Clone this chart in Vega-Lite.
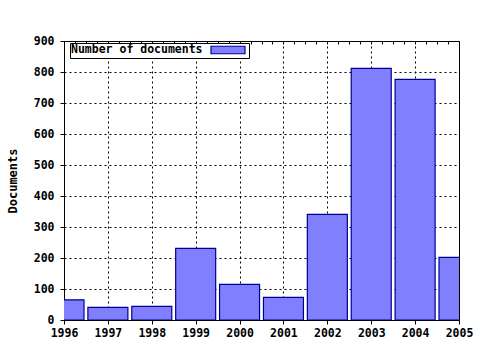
{
  "$schema": "https://vega.github.io/schema/vega-lite/v6.json",
  "width": 395,
  "height": 279,
  "autosize": "none",
  "padding": {"left": 64, "top": 41, "right": 21, "bottom": 30},
  "background": "white",
  "config": {
    "view": {"stroke": "black", "strokeWidth": 1},
    "font": "DejaVu Sans Mono"
  },
  "data": {
    "values": [
      {"year": 1996, "documents": 65},
      {"year": 1997, "documents": 41},
      {"year": 1998, "documents": 44},
      {"year": 1999, "documents": 231},
      {"year": 2000, "documents": 115},
      {"year": 2001, "documents": 73},
      {"year": 2002, "documents": 341},
      {"year": 2003, "documents": 812},
      {"year": 2004, "documents": 776},
      {"year": 2005, "documents": 202}
    ]
  },
  "layer": [
    {
      "mark": {"type": "bar", "size": 40, "clip": true, "stroke": "#000090", "strokeWidth": 1.2},
      "encoding": {
        "x": {
          "field": "year", "type": "quantitative",
          "scale": {"domain": [1996, 2005], "nice": false, "zero": false, "padding": 0},
          "axis": {
            "orient": "bottom", "title": null, "format": "d",
            "values": [1996,1996.25,1996.5,1996.75,1997,1997.25,1997.5,1997.75,1998,1998.25,1998.5,1998.75,1999,1999.25,1999.5,1999.75,2000,2000.25,2000.5,2000.75,2001,2001.25,2001.5,2001.75,2002,2002.25,2002.5,2002.75,2003,2003.25,2003.5,2003.75,2004,2004.25,2004.5,2004.75,2005],
            "labelExpr": "datum.value % 1 == 0 ? datum.label : ''",
            "labelFont": "DejaVu Sans Mono", "labelFontWeight": "bold", "labelFontSize": 11.5, "labelColor": "black",
            "labelPadding": 3, "labelFlush": false, "labelOverlap": false,
            "domainColor": "black", "tickColor": "black",
            "tickSize": {"condition": {"test": "datum.value % 1 == 0", "value": 4}, "value": -3},
            "grid": true, "gridColor": "black", "gridDash": [2, 3], "gridWidth": 1,
            "gridOpacity": {"condition": {"test": "datum.value % 1 == 0 && datum.value > 1996 && datum.value < 2005", "value": 1}, "value": 0}
          }
        },
        "y": {
          "field": "documents", "type": "quantitative",
          "scale": {"domain": [0, 900], "nice": false},
          "axis": {
            "title": "Documents", "titleFont": "DejaVu Sans Mono", "titleFontWeight": "bold", "titleFontSize": 12, "titleColor": "black", "titlePadding": 14,
            "values": [0,100,200,300,400,500,600,700,800,900],
            "labelFont": "DejaVu Sans Mono", "labelFontWeight": "bold", "labelFontSize": 11.5, "labelColor": "black", "labelPadding": 6,
            "domainColor": "black", "tickColor": "black", "tickSize": 4,
            "grid": true, "gridColor": "black", "gridDash": [2, 3],
            "gridOpacity": {"condition": {"test": "datum.value > 0 && datum.value < 900", "value": 1}, "value": 0}
          }
        },
        "color": {
          "datum": "Number of documents",
          "scale": {"range": ["#8080ff"]},
          "legend": {
            "orient": "none", "legendX": 6, "legendY": 2, "title": null,
            "fillColor": "white", "strokeColor": "black", "padding": 1,
            "symbolType": "M-3.4,-0.75H3.4V0.75H-3.4Z", "symbolSize": 100,
            "symbolStrokeColor": "#000090", "symbolStrokeWidth": 1.2, "symbolFillColor": "#8080ff",
            "symbolOffset": 151, "labelOffset": -163,
            "labelFont": "DejaVu Sans Mono", "labelFontWeight": "bold", "labelFontSize": 11.5, "labelColor": "black"
          }
        }
      }
    },
    {
      "mark": {"type": "rule", "opacity": 0},
      "encoding": {
        "x": {
          "field": "year", "type": "quantitative",
          "axis": {
            "orient": "top", "title": null, "labels": false, "grid": false,
            "values": [1996,1996.25,1996.5,1996.75,1997,1997.25,1997.5,1997.75,1998,1998.25,1998.5,1998.75,1999,1999.25,1999.5,1999.75,2000,2000.25,2000.5,2000.75,2001,2001.25,2001.5,2001.75,2002,2002.25,2002.5,2002.75,2003,2003.25,2003.5,2003.75,2004,2004.25,2004.5,2004.75,2005],
            "domainColor": "black", "tickColor": "black", "tickSize": -3
          }
        }
      }
    }
  ],
  "resolve": {"axis": {"x": "independent"}}
}
